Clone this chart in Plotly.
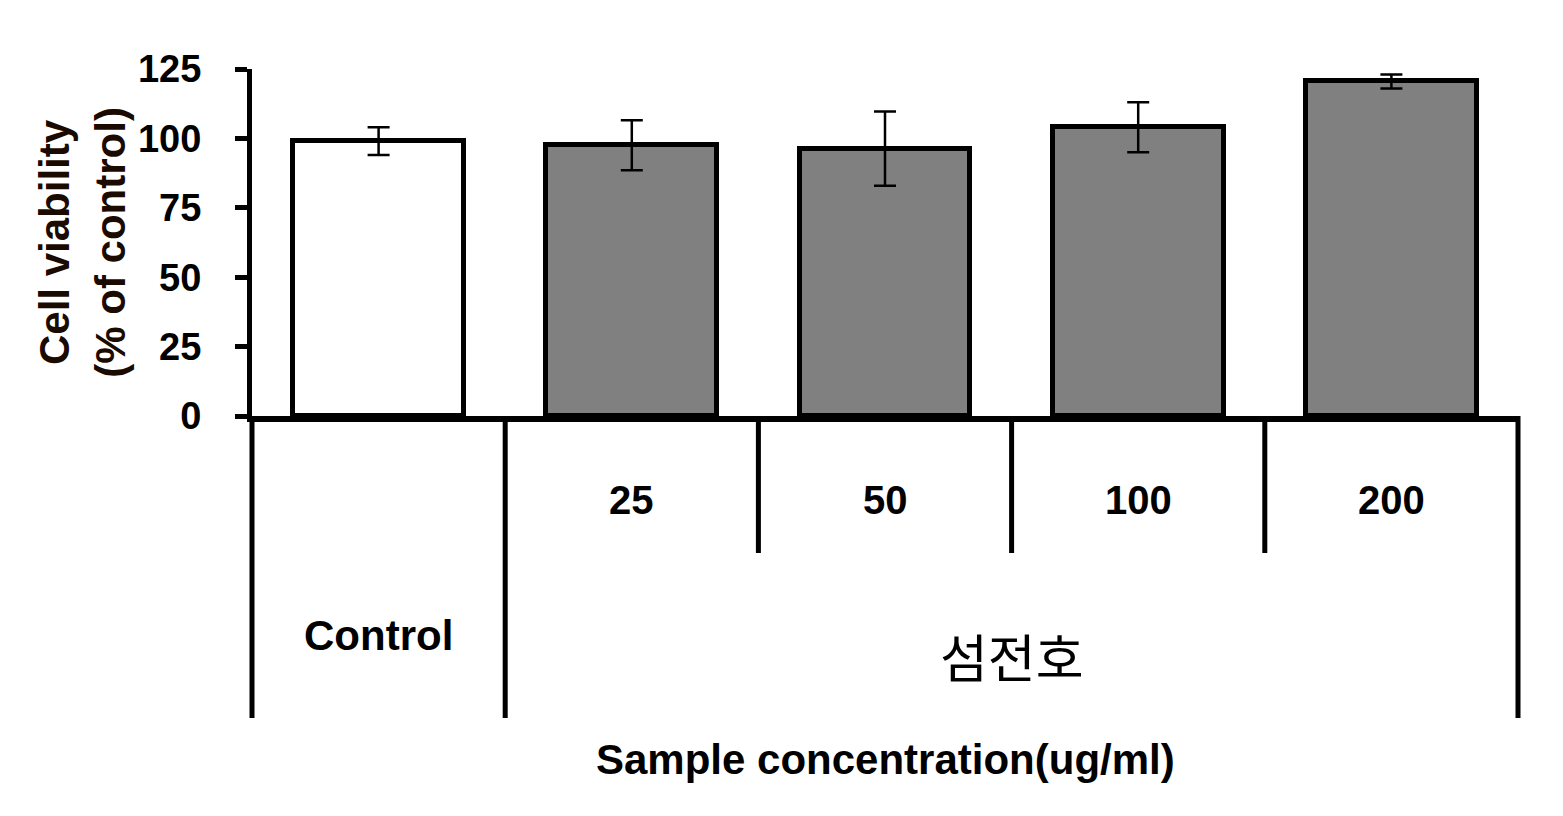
import plotly.graph_objects as go

# ---- data ----
categories = ["Control", "25", "50", "100", "200"]
group_labels = ["Control", "섬전호"]
viability = [99, 97.5, 96.3, 104, 120.5]
errors = [5, 9, 13.4, 9, 2.5]
bar_colors = ["#ffffff", "#808080", "#808080", "#808080", "#808080"]
y_ticks = [0, 25, 50, 75, 100, 125]

FONT = "Liberation Sans, Arial, sans-serif"
KFONT = "Noto Sans CJK KR, sans-serif"

xpos = list(range(len(categories)))

fig = go.Figure()
fig.add_trace(go.Bar(
    x=xpos, y=viability, width=0.675,
    marker=dict(color=bar_colors, line=dict(color="black", width=5)),
    error_y=dict(type="data", array=errors, visible=True,
                 color="black", thickness=2.5, width=11),
    showlegend=False,
))

n = len(categories)
shapes = []
long_bounds = [0, 1, n]
short_bounds = [2, 3, 4]
for b in long_bounds:
    shapes.append(dict(type="line", xref="x domain", yref="paper",
                       x0=b / n, x1=b / n, y0=0, y1=-0.87,
                       line=dict(color="black", width=5)))
for b in short_bounds:
    shapes.append(dict(type="line", xref="x domain", yref="paper",
                       x0=b / n, x1=b / n, y0=0, y1=-0.395,
                       line=dict(color="black", width=5)))

def ann(x, y, text, font, xref="x", angle=0):
    return dict(x=x, y=y, xref=xref, yref="paper", text=text, showarrow=False,
                xanchor="center", yanchor="middle", textangle=angle, font=font)

annotations = []
for i, c in enumerate(categories[1:], start=1):
    annotations.append(ann(i, -0.242, f"<b>{c}</b>", dict(family=FONT, size=40, color="black")))
annotations.append(ann(0, -0.634, f"<b>{group_labels[0]}</b>", dict(family=FONT, size=42, color="black")))
annotations.append(ann(2.5, -0.69, group_labels[1], dict(family=KFONT, size=52, color="black")))
annotations.append(ann(0.5, -0.991, "<b>Sample concentration(ug/ml)</b>",
                       dict(family=FONT, size=42, color="black"), xref="paper"))
annotations.append(ann(-0.156, 0.5, "<b>Cell viability</b>",
                       dict(family=FONT, size=42, color="#1a0a00"), xref="paper", angle=-90))
annotations.append(ann(-0.112, 0.5, "<b>(% of control)</b>",
                       dict(family=FONT, size=42, color="#1a0a00"), xref="paper", angle=-90))

fig.update_layout(
    width=1563, height=816,
    margin=dict(l=244, r=53, t=61, b=408),
    paper_bgcolor="white", plot_bgcolor="white",
    shapes=shapes, annotations=annotations,
    bargap=0,
    xaxis=dict(range=[-0.5, n - 0.5], showticklabels=False, ticks="",
               showline=True, linecolor="black", linewidth=6,
               showgrid=False, zeroline=False, fixedrange=True),
    yaxis=dict(range=[0, 125], tickvals=y_ticks, ticktext=[f"<b>{v}</b>" for v in y_ticks],
               ticks="outside", ticklen=12, tickwidth=5, tickcolor="black",
               showline=True, linecolor="black", linewidth=5,
               showgrid=False, zeroline=False,
               tickfont=dict(family=FONT, size=38, color="black"),
               ticklabelstandoff=26, fixedrange=True, automargin=False),
)

fig.write_html("out.html")
